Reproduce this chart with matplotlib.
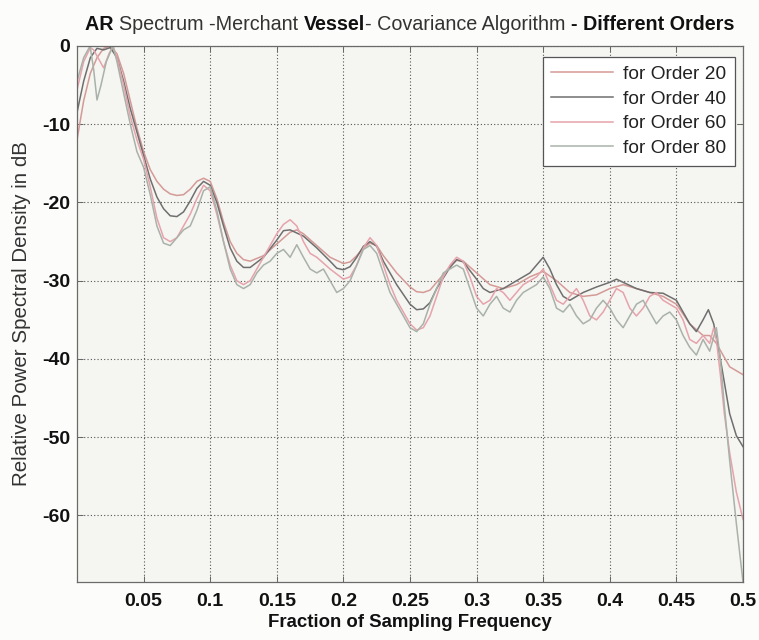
import matplotlib
matplotlib.use("Agg")
import matplotlib.pyplot as plt

# ---------------- data ----------------
f20 = [0, 0.005, 0.01, 0.015, 0.02, 0.025, 0.03, 0.035, 0.04, 0.045, 0.05, 0.055, 0.06, 0.065, 0.07,
       0.075, 0.08, 0.085, 0.09, 0.095, 0.1, 0.105, 0.11, 0.115, 0.12, 0.125, 0.13, 0.14, 0.15, 0.16,
       0.165, 0.17, 0.18, 0.19, 0.2, 0.205, 0.21, 0.215, 0.22, 0.225, 0.23, 0.24, 0.25, 0.255, 0.26,
       0.265, 0.27, 0.28, 0.285, 0.29, 0.3, 0.31, 0.32, 0.33, 0.34, 0.35, 0.36, 0.37, 0.38, 0.39, 0.4,
       0.41, 0.42, 0.43, 0.44, 0.45, 0.46, 0.47, 0.475, 0.48, 0.485, 0.49, 0.5]
p20 = [-12, -7, -3.5, -1.5, -0.3, 0, -1, -3.5, -7, -10.5, -13.5, -15.8, -17.3, -18.3, -18.9,
       -19.1, -19.0, -18.3, -17.3, -16.9, -17.3, -19.5, -22.5, -25, -26.5, -27.3, -27.5, -26.8, -25.3, -23.8,
       -23.5, -24, -25.5, -27, -27.8, -27.6, -26.8, -25.8, -25.2, -25.5, -26.8, -29, -30.8, -31.4, -31.5,
       -31.2, -30.2, -28.2, -27.4, -27.5, -29, -30.5, -31, -30.5, -29.5, -28.8, -30, -31.5, -32, -31.8, -31,
       -30.5, -31, -31.5, -32, -33, -35.5, -37, -37, -38, -39.5, -41, -42]

f40 = [0, 0.005, 0.01, 0.015, 0.02, 0.025, 0.03, 0.035, 0.04, 0.045, 0.05, 0.055, 0.06, 0.065, 0.07,
       0.075, 0.08, 0.085, 0.09, 0.095, 0.1, 0.105, 0.11, 0.115, 0.12, 0.125, 0.13, 0.14, 0.15, 0.155,
       0.16, 0.17, 0.18, 0.19, 0.195, 0.2, 0.205, 0.21, 0.215, 0.22, 0.225, 0.23, 0.24, 0.25, 0.255,
       0.26, 0.265, 0.27, 0.28, 0.285, 0.29, 0.3, 0.305, 0.31, 0.32, 0.33, 0.34, 0.35, 0.355, 0.36,
       0.365, 0.37, 0.38, 0.39, 0.4, 0.405, 0.41, 0.42, 0.43, 0.44, 0.45, 0.455, 0.46, 0.465, 0.47,
       0.474, 0.478, 0.482, 0.486, 0.49, 0.495, 0.5]
p40 = [-8.5, -4.5, -1.5, -0.3, -0.5, -0.2, -1.5, -4.5, -8, -11, -14, -17, -19.3, -20.8, -21.7,
       -21.8, -21.2, -19.8, -18.2, -17.3, -17.8, -20, -23, -25.8, -27.5, -28.3, -28.3, -27, -24.8, -23.6,
       -23.5, -24.3, -25.8, -27.5, -28.4, -28.6, -28.2, -27, -25.6, -25, -25.6, -27.5, -30.5, -33, -33.7,
       -33.6, -32.8, -31, -28.3, -27.3, -27.6, -29.8, -31, -31.5, -31, -30, -29, -27, -28.5, -30.5,
       -32, -32.5, -31.5, -30.8, -30.2, -29.8, -30.2, -31, -31.5, -31.6, -32.5, -34, -35.5, -36.5, -35,
       -33.7, -35.5, -39, -43, -47, -49.8, -51.2]

f60 = [0, 0.005, 0.01, 0.0125, 0.02, 0.024, 0.027, 0.03, 0.035, 0.04, 0.045, 0.05, 0.055, 0.06, 0.065,
       0.07, 0.075, 0.08, 0.085, 0.09, 0.095, 0.1, 0.105, 0.11, 0.115, 0.12, 0.125, 0.13, 0.135, 0.14,
       0.145, 0.15, 0.155, 0.16, 0.165, 0.17, 0.175, 0.18, 0.19, 0.2, 0.205, 0.21, 0.215, 0.22, 0.225,
       0.23, 0.235, 0.24, 0.245, 0.25, 0.255, 0.26, 0.265, 0.27, 0.275, 0.28, 0.285, 0.29, 0.295, 0.3,
       0.305, 0.31, 0.315, 0.32, 0.325, 0.33, 0.335, 0.34, 0.345, 0.35, 0.355, 0.36, 0.365, 0.37, 0.375,
       0.38, 0.385, 0.39, 0.395, 0.4, 0.405, 0.41, 0.415, 0.42, 0.425, 0.43, 0.435, 0.44, 0.445, 0.45,
       0.455, 0.46, 0.465, 0.47, 0.475, 0.478, 0.48, 0.483, 0.486, 0.49, 0.495, 0.5]
p60 = [-5.6, -2, -0.2, -0.5, -2.8, -1, 0, -1.5, -5, -9, -12, -14.5, -18, -22, -24.5,
       -25, -24.5, -23, -21.5, -19.5, -17.8, -18.5, -21.5, -25, -28, -30, -30.5, -30, -28.5, -27,
       -25.5, -24, -22.8, -22.2, -23, -25, -26.5, -27, -28.5, -29.8, -29.5, -28, -25.8, -24.5, -25.5,
       -28, -30.5, -32.5, -34, -35.5, -36.3, -36, -34.5, -32, -29.5, -28, -27, -27.5, -29.5, -32,
       -33, -32.5, -31, -31.5, -32.5, -31.5, -30.5, -30, -29.5, -28.5, -30.5, -32.5, -33, -32, -31,
       -32.5, -34.5, -35, -34, -32.5, -31, -31.5, -33.5, -34.5, -33.5, -32, -31.5, -32.5, -33, -33.5,
       -35, -37.5, -38, -37, -38, -36, -37.5, -42, -47, -52, -57, -60.5]

f80 = [0, 0.005, 0.0098, 0.0125, 0.015, 0.018, 0.022, 0.027, 0.03, 0.035, 0.04, 0.045, 0.05, 0.055, 0.06,
       0.065, 0.07, 0.075, 0.08, 0.085, 0.09, 0.095, 0.1, 0.105, 0.11, 0.115, 0.12, 0.125, 0.13, 0.135,
       0.14, 0.145, 0.15, 0.155, 0.16, 0.165, 0.17, 0.175, 0.18, 0.185, 0.19, 0.195, 0.2, 0.205, 0.21,
       0.215, 0.22, 0.225, 0.23, 0.235, 0.24, 0.245, 0.25, 0.255, 0.26, 0.265, 0.27, 0.275, 0.28, 0.285,
       0.29, 0.295, 0.3, 0.305, 0.31, 0.315, 0.32, 0.325, 0.33, 0.335, 0.34, 0.345, 0.35, 0.355, 0.36,
       0.365, 0.37, 0.375, 0.38, 0.385, 0.39, 0.395, 0.4, 0.405, 0.41, 0.415, 0.42, 0.425, 0.43, 0.435,
       0.44, 0.445, 0.45, 0.455, 0.46, 0.465, 0.47, 0.475, 0.48, 0.483, 0.486, 0.49, 0.495, 0.5]
p80 = [-4.5, -1.5, 0, -3, -6.9, -5, -2, 0, -2, -6, -10, -13.5, -15.5, -19, -23,
       -25.2, -25.5, -24.5, -23.5, -23, -21, -18.5, -18, -21, -25, -28.5, -30.5, -31, -30.5, -29,
       -28, -27.5, -26.5, -26, -27, -25.4, -27, -28.5, -29, -28.5, -30, -31.5, -31, -30, -28,
       -26, -25.5, -26.5, -29, -31.5, -33, -34.5, -36, -36.5, -35.5, -33, -31, -29, -28.5, -28,
       -28.5, -31, -33.5, -34.5, -33, -32, -33.5, -34, -32.5, -31.5, -31, -30.5, -29.5, -31, -33.5,
       -34, -33, -34.5, -35.5, -35, -33.5, -32.5, -33.5, -35, -36, -34.5, -33, -32.5, -34, -35.5,
       -34.5, -34, -35, -37, -38.5, -39.5, -37.5, -39, -36, -40, -46, -53, -61, -68.5]

labels = ["for Order 20", "for Order 40", "for Order 60", "for Order 80"]
xticks = [0.05, 0.1, 0.15, 0.2, 0.25, 0.3, 0.35, 0.4, 0.45, 0.5]
xticklabels = ["0.05", "0.1", "0.15", "0.2", "0.25", "0.3", "0.35", "0.4", "0.45", "0.5"]
yticks = [0, -10, -20, -30, -40, -50, -60]
yticklabels = ["0", "-10", "-20", "-30", "-40", "-50", "-60"]

title_pieces = [("AR ", "bold", "#111111"),
                ("Spectrum -Merchant ", "normal", "#333333"),
                ("Vessel", "bold", "#111111"),
                ("- Covariance Algorithm ", "normal", "#333333"),
                ("- Different Orders", "bold", "#111111")]

colors = ["#d49a96", "#6f6f6f", "#e6a3ab", "#a9b2a9"]

# ---------------- figure ----------------
W, H = 759, 640
FONT = "Liberation Sans"
plt.rcParams["font.family"] = [FONT, "DejaVu Sans"]

fig = plt.figure(figsize=(W / 100, H / 100), dpi=100, facecolor="#fcfcfb")
ax_l, ax_r, ax_t, ax_b = 77, 743, 46, 582
ax = fig.add_axes([ax_l / W, 1 - ax_b / H, (ax_r - ax_l) / W, (ax_b - ax_t) / H])
ax.set_facecolor("#f5f5f2")

series = [(f20, p20), (f40, p40), (f60, p60), (f80, p80)]
for (fx, py), c, lab in zip(series, colors, labels):
    ax.plot(fx, py, color=c, lw=1.1, label=lab)

ax.set_xlim(0, 0.5)
ax.set_ylim(-68.5, 0)
ax.set_xticks(xticks)
ax.set_xticklabels(xticklabels, fontsize=14, fontweight="bold", color="#111111")
ax.set_yticks(yticks)
ax.set_yticklabels(yticklabels, fontsize=14, fontweight="bold", color="#111111")
ax.tick_params(axis="x", pad=8)
ax.tick_params(axis="y", pad=5)
ax.tick_params(direction="in", length=4, width=0.7, color="#666666", top=True, right=True)
ax.grid(True, color="#555555", linestyle=(0, (1, 2)), linewidth=0.8)
for s in ax.spines.values():
    s.set_color("#6a6a6a")
    s.set_linewidth(0.9)

ax.set_xlabel("Fraction of Sampling Frequency", fontsize=13.4, fontweight="bold", color="#111111", labelpad=3)
ax.set_ylabel("Relative Power Spectral Density in dB", fontsize=14.8, color="#333333", labelpad=8)

leg = ax.legend(loc="upper right", bbox_to_anchor=((735 - ax_l) / (ax_r - ax_l), (ax_b - 57) / (ax_b - ax_t)),
                borderaxespad=0, fontsize=13.8, handlelength=3.2, handletextpad=0.55, labelspacing=0.38,
                fancybox=False, framealpha=1, edgecolor="#555555", borderpad=0.45)
leg.get_frame().set_linewidth(0.9)
for t in leg.get_texts():
    t.set_color("#222222")

# title built from pieces of mixed weight
fig.canvas.draw()
r = fig.canvas.get_renderer()
texts = []
for s, w, c in title_pieces:
    t = fig.text(0, 1 - 24 / H, s, fontsize=14.2, fontweight=w, color=c, ha="left", va="center")
    texts.append(t)
widths = [t.get_window_extent(r).width for t in texts]
x0 = (ax_l + ax_r) / 2 - sum(widths) / 2
for t, w in zip(texts, widths):
    t.set_x(x0 / W)
    x0 += w

fig.savefig("out.png", dpi=100, facecolor=fig.get_facecolor())
